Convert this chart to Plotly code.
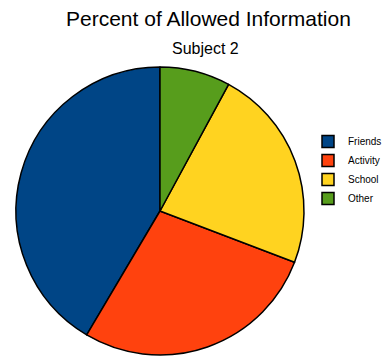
import plotly.graph_objects as go

labels = ["Friends", "Activity", "School", "Other"]
values = [41.5, 27.7, 22.9, 7.9]
colors = ["#004586", "#ff420e", "#ffd320", "#579d1c"]

W, H = 383, 356
cx, cy, r = 160, 211, 144

# first slice starts at 12 o'clock and runs counterclockwise
start_rot = 360 - 360 * values[0] / sum(values)

fig = go.Figure(go.Pie(
    labels=labels, values=values, sort=False,
    direction="counterclockwise", rotation=start_rot,
    marker=dict(colors=colors, line=dict(color="black", width=1.5)),
    textinfo="none", hoverinfo="label+percent",
    domain=dict(x=[(cx - r) / W, (cx + r) / W],
                y=[1 - (cy + r) / H, 1 - (cy - r) / H]),
))

fig.update_layout(
    width=W, height=H,
    margin=dict(l=0, r=0, t=0, b=0, autoexpand=False),
    paper_bgcolor="white",
    font=dict(family="Liberation Sans, Arial, sans-serif", color="black"),
    showlegend=True,
    legend=dict(x=308 / W, y=1 - 127 / H, xanchor="left", yanchor="top",
                font=dict(size=10), tracegroupgap=0, itemwidth=30,
                bgcolor="rgba(0,0,0,0)"),
    annotations=[
        dict(text="Percent of Allowed Information", x=208 / W, y=1 - 19 / H,
             xref="paper", yref="paper", showarrow=False,
             font=dict(size=21), xanchor="center", yanchor="middle"),
        dict(text="Subject 2", x=205 / W, y=1 - 48 / H,
             xref="paper", yref="paper", showarrow=False,
             font=dict(size=16), xanchor="center", yanchor="middle"),
    ],
)

fig.write_html("out.html")
